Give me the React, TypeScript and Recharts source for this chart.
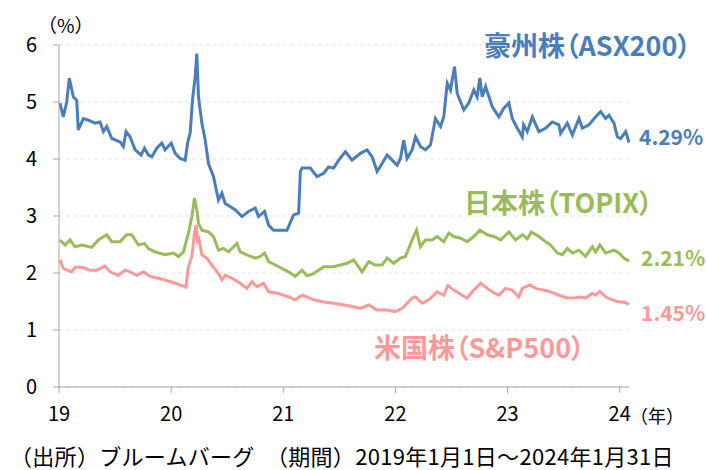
import { LineChart, Line, XAxis, YAxis, CartesianGrid } from "recharts";

// 配当利回り（%）、横軸は年（19 = 2019年初）
const asxDates = [
  19.009, 19.038, 19.069, 19.092, 19.128, 19.158, 19.172, 19.217, 19.262, 19.321,
  19.366, 19.396, 19.426, 19.471, 19.545, 19.574, 19.598, 19.634, 19.679, 19.732,
  19.762, 19.797, 19.828, 19.872, 19.917, 19.946, 20.0, 20.036, 20.08, 20.125,
  20.149, 20.17, 20.19, 20.214, 20.229, 20.244, 20.274, 20.304, 20.333, 20.378,
  20.422, 20.453, 20.482, 20.571, 20.631, 20.69, 20.75, 20.779, 20.833, 20.869,
  20.913, 20.973, 21.033, 21.092, 21.137, 21.152, 21.167, 21.241, 21.301, 21.36,
  21.404, 21.449, 21.494, 21.554, 21.613, 21.688, 21.747, 21.792, 21.837, 21.881,
  21.926, 21.971, 22.015, 22.045, 22.074, 22.104, 22.149, 22.179, 22.223, 22.268,
  22.313, 22.357, 22.402, 22.431, 22.462, 22.491, 22.527, 22.551, 22.61, 22.654,
  22.699, 22.729, 22.753, 22.774, 22.804, 22.863, 22.922, 22.967, 23.012, 23.042,
  23.087, 23.131, 23.143, 23.176, 23.221, 23.279, 23.339, 23.399, 23.458, 23.473,
  23.533, 23.578, 23.637, 23.667, 23.726, 23.786, 23.83, 23.875, 23.904, 23.949,
  23.979, 24.009, 24.054, 24.083,
];
const asxValues = [
  4.98, 4.74, 5.0, 5.42, 5.09, 5.03, 4.51, 4.71, 4.68, 4.63,
  4.65, 4.48, 4.57, 4.36, 4.3, 4.22, 4.48, 4.39, 4.16, 4.07,
  4.19, 4.07, 4.04, 4.19, 4.28, 4.16, 4.28, 4.1, 4.01, 3.98,
  4.3, 4.46, 5.03, 5.44, 5.85, 5.09, 4.63, 4.33, 3.92, 3.69,
  3.28, 3.4, 3.22, 3.11, 2.99, 3.08, 3.14, 2.99, 3.08, 2.84,
  2.75, 2.75, 2.75, 3.02, 3.05, 3.78, 3.84, 3.84, 3.69, 3.75,
  3.86, 3.84, 3.98, 4.13, 3.98, 4.1, 4.16, 4.04, 3.78, 3.92,
  4.07, 3.98, 3.89, 4.01, 4.33, 4.01, 4.16, 4.39, 4.22, 4.16,
  4.25, 4.71, 4.57, 4.74, 5.33, 5.21, 5.62, 5.15, 4.86, 4.98,
  5.21, 5.09, 5.42, 5.09, 5.27, 4.92, 4.74, 4.89, 4.98, 4.71,
  4.54, 4.39, 4.6, 4.48, 4.74, 4.48, 4.54, 4.65, 4.6, 4.45,
  4.63, 4.42, 4.71, 4.54, 4.6, 4.74, 4.83, 4.71, 4.77, 4.63,
  4.39, 4.36, 4.48, 4.29,
];

const topixDates = [
  19.009, 19.054, 19.098, 19.143, 19.203, 19.292, 19.351, 19.426, 19.471, 19.545,
  19.604, 19.649, 19.708, 19.762, 19.797, 19.857, 19.946, 20.021, 20.065, 20.11,
  20.154, 20.185, 20.208, 20.229, 20.244, 20.274, 20.333, 20.378, 20.422, 20.467,
  20.512, 20.542, 20.587, 20.616, 20.676, 20.75, 20.795, 20.833, 20.869, 20.929,
  20.988, 21.047, 21.107, 21.167, 21.211, 21.271, 21.36, 21.449, 21.569, 21.628,
  21.703, 21.762, 21.821, 21.881, 21.926, 21.985, 22.045, 22.089, 22.119, 22.149,
  22.188, 22.223, 22.268, 22.328, 22.372, 22.431, 22.476, 22.521, 22.58, 22.64,
  22.699, 22.753, 22.819, 22.878, 22.938, 23.012, 23.071, 23.131, 23.176, 23.212,
  23.279, 23.339, 23.384, 23.444, 23.488, 23.533, 23.578, 23.637, 23.696, 23.756,
  23.786, 23.824, 23.875, 23.949, 23.994, 24.038, 24.083,
];
const topixValues = [
  2.58, 2.49, 2.58, 2.46, 2.49, 2.45, 2.58, 2.67, 2.55, 2.55,
  2.67, 2.67, 2.49, 2.52, 2.43, 2.37, 2.32, 2.35, 2.29, 2.37,
  2.7, 2.99, 3.31, 3.11, 2.87, 2.75, 2.72, 2.64, 2.4, 2.43,
  2.37, 2.43, 2.52, 2.37, 2.32, 2.26, 2.29, 2.35, 2.2, 2.14,
  2.08, 2.02, 1.94, 2.05, 1.95, 1.99, 2.11, 2.11, 2.17, 2.23,
  2.02, 2.2, 2.14, 2.14, 2.26, 2.17, 2.26, 2.29, 2.43, 2.58,
  2.75, 2.46, 2.58, 2.58, 2.64, 2.55, 2.7, 2.64, 2.61, 2.55,
  2.64, 2.75, 2.67, 2.64, 2.58, 2.72, 2.58, 2.67, 2.6, 2.72,
  2.64, 2.55, 2.49, 2.35, 2.32, 2.43, 2.35, 2.4, 2.29, 2.46,
  2.37, 2.49, 2.35, 2.4, 2.35, 2.26, 2.21,
];

const spxDates = [
  19.009, 19.038, 19.113, 19.143, 19.203, 19.277, 19.337, 19.411, 19.455, 19.529,
  19.589, 19.634, 19.694, 19.753, 19.813, 19.917, 19.991, 20.08, 20.131, 20.154,
  20.185, 20.208, 20.223, 20.238, 20.25, 20.274, 20.319, 20.363, 20.422, 20.453,
  20.482, 20.542, 20.616, 20.676, 20.721, 20.765, 20.824, 20.869, 20.958, 21.047,
  21.107, 21.167, 21.211, 21.271, 21.36, 21.449, 21.569, 21.688, 21.762, 21.837,
  21.926, 22.0, 22.06, 22.104, 22.149, 22.179, 22.238, 22.297, 22.372, 22.431,
  22.467, 22.521, 22.596, 22.64, 22.699, 22.759, 22.819, 22.863, 22.922, 22.982,
  23.042, 23.101, 23.131, 23.199, 23.25, 23.324, 23.384, 23.458, 23.533, 23.592,
  23.652, 23.696, 23.756, 23.786, 23.824, 23.875, 23.935, 23.994, 24.038, 24.083,
];
const spxValues = [
  2.23, 2.08, 2.02, 2.1, 2.1, 2.05, 2.05, 2.12, 2.02, 1.96,
  2.05, 2.02, 1.96, 2.02, 1.94, 1.89, 1.85, 1.79, 1.75, 2.11,
  2.29, 2.7, 2.84, 2.52, 2.58, 2.32, 2.26, 2.14, 1.99, 1.88,
  1.96, 1.91, 1.82, 1.73, 1.85, 1.76, 1.82, 1.67, 1.64, 1.58,
  1.53, 1.61, 1.58, 1.53, 1.49, 1.47, 1.43, 1.38, 1.44, 1.35,
  1.35, 1.32, 1.38, 1.47, 1.56, 1.58, 1.47, 1.53, 1.67, 1.61,
  1.78, 1.7, 1.61, 1.56, 1.7, 1.82, 1.73, 1.67, 1.61, 1.73,
  1.7, 1.58, 1.73, 1.79, 1.73, 1.7, 1.67, 1.61, 1.56, 1.56,
  1.58, 1.56, 1.64, 1.61, 1.68, 1.58, 1.53, 1.49, 1.49, 1.45,
];

const yearTicks = [19, 20, 21, 22, 23, 24];
const yTicks = [0, 1, 2, 3, 4, 5, 6];

const zip = (dates: number[], values: number[]) =>
  dates.map((t, i) => ({ t, v: values[i] }));

const BLUE = "#4a7ebb";
const GREEN = "#9bbb59";
const PINK = "#ff9999";
const FONT = '"Noto Sans CJK JP", "Noto Sans", sans-serif';

const label = (
  text: string,
  left: number,
  top: number,
  color: string,
  size: number,
  bold = true,
  palt = true,
  spacing = 0
) => (
  <div
    style={{
      position: "absolute",
      left,
      top,
      color,
      fontSize: size,
      fontWeight: bold ? 700 : 400,
      lineHeight: 1,
      letterSpacing: spacing,
      whiteSpace: "nowrap",
      fontFamily: FONT,
      fontFeatureSettings: palt ? '"palt"' : "normal",
    }}
  >
    {text}
  </div>
);

export default function App() {
  const tick = { fontSize: 20, fill: "#000", fontFamily: FONT };
  return (
    <div style={{ position: "absolute", left: 0, top: 0, width: 706, height: 470, background: "#fff" }}>
      <LineChart
        width={706}
        height={470}
        margin={{ top: 45, right: 77, left: 29, bottom: 53 }}
      >
        <CartesianGrid vertical={false} stroke="#e3e3e3" strokeDasharray="4 3" />
        <XAxis
          dataKey="t"
          type="number"
          domain={[19, 24.083]}
          ticks={yearTicks}
          allowDuplicatedCategory={false}
          height={30}
          tickSize={6}
          tickMargin={14}
          stroke="#a6a6a6"
          tick={tick}
        />
        <YAxis
          type="number"
          domain={[0, 6]}
          ticks={yTicks}
          width={30}
          tickSize={6}
          tickMargin={16}
          stroke="#a6a6a6"
          tick={tick}
        />
        <Line data={zip(spxDates, spxValues)} dataKey="v" stroke={PINK} strokeWidth={3} dot={false} isAnimationActive={false} />
        <Line data={zip(topixDates, topixValues)} dataKey="v" stroke={GREEN} strokeWidth={3} dot={false} isAnimationActive={false} />
        <Line data={zip(asxDates, asxValues)} dataKey="v" stroke={BLUE} strokeWidth={3} dot={false} isAnimationActive={false} />
      </LineChart>
      {label("（%）", 38, 15, "#000", 19, false, false)}
      {label("（年）", 630, 406, "#000", 18, false, false)}
      {label("豪州株（ASX200）", 484, 31, BLUE, 27)}
      {label("4.29%", 639, 126, BLUE, 21)}
      {label("日本株（TOPIX）", 464, 188, GREEN, 27)}
      {label("2.21%", 641, 247, GREEN, 21)}
      {label("1.45%", 641, 302, PINK, 21)}
      {label("米国株（S&P500）", 374, 333, PINK, 27)}
      {label("（出所）ブルームバーグ　（期間）2019年1月1日～2024年1月31日", 10, 444, "#000", 22, false, false, 0.3)}
    </div>
  );
}
